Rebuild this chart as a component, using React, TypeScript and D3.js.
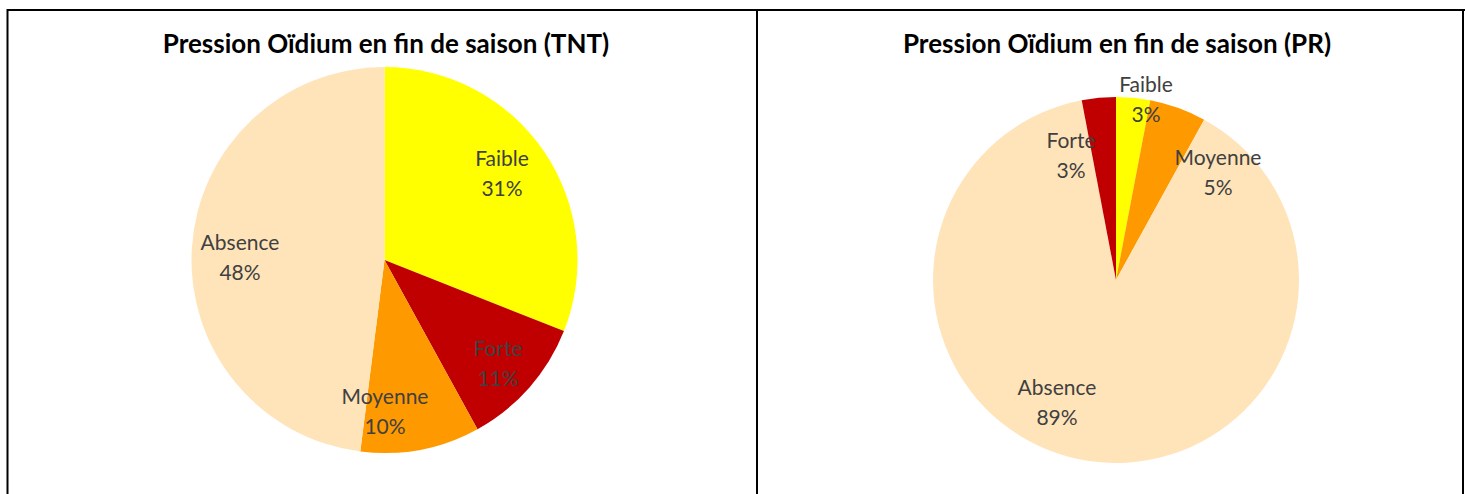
import React from "react";
import * as d3 from "d3";

const tntCategories = ["Faible", "Forte", "Moyenne", "Absence"];
const tntValues = [31, 11, 10, 48];
const prCategories = ["Faible", "Moyenne", "Absence", "Forte"];
const prValues = [3, 5, 89, 3];
const colorMap: Record<string, string> = {
  Faible: "#FFFF00",
  Forte: "#C00000",
  Moyenne: "#FF9900",
  Absence: "#FFE4BA",
};

const FONT = "Lato, 'Open Sans', sans-serif";

type PieProps = {
  title: string;
  titleX: number;
  titleY: number;
  cx: number;
  cy: number;
  r: number;
  categories: string[];
  values: number[];
  labelPos: Record<string, [number, number]>;
};

function Pie({ title, titleX, titleY, cx, cy, r, categories, values, labelPos }: PieProps) {
  const data = categories.map((c, i) => ({ c, v: values[i] }));
  const pie = d3.pie<{ c: string; v: number }>().value((d) => d.v).sort(null);
  const arc = d3.arc<d3.PieArcDatum<{ c: string; v: number }>>().innerRadius(0).outerRadius(r);
  const arcs = pie(data);
  return (
    <g>
      <text x={titleX} y={titleY} textAnchor="middle" fontFamily={FONT} fontWeight="bold" fontSize={26} fill="#000">
        {title}
      </text>
      <g transform={`translate(${cx},${cy})`}>
        {arcs.map((a) => (
          <path key={a.data.c} d={arc(a) || ""} fill={colorMap[a.data.c]} />
        ))}
      </g>
      {arcs.map((a) => {
        const [lx, ly] = labelPos[a.data.c];
        return (
          <text key={"l" + a.data.c} x={lx} y={ly} textAnchor="middle" fontFamily={FONT} fontSize={21} fill="#404040">
            <tspan x={lx} dy={0}>{a.data.c}</tspan>
            <tspan x={lx} dy={30}>{`${a.data.v}%`}</tspan>
          </text>
        );
      })}
    </g>
  );
}

export default function App() {
  return (
    <svg width={1465} height={494} style={{ position: "absolute", left: 0, top: 0, background: "#fff" }}>
      <rect x={0} y={0} width={1465} height={494} fill="#fff" />
      <Pie
        title="Pression Oïdium en fin de saison (TNT)"
        titleX={386}
        titleY={53}
        cx={384.5}
        cy={260}
        r={193}
        categories={tntCategories}
        values={tntValues}
        labelPos={{
          Faible: [502, 166],
          Forte: [498, 356],
          Moyenne: [385, 404],
          Absence: [240, 250],
        }}
      />
      <Pie
        title="Pression Oïdium en fin de saison (PR)"
        titleX={1117}
        titleY={53}
        cx={1116}
        cy={280}
        r={183}
        categories={prCategories}
        values={prValues}
        labelPos={{
          Faible: [1146, 92],
          Forte: [1071, 148],
          Moyenne: [1218, 165],
          Absence: [1057, 395],
        }}
      />
      <g stroke="#000" strokeWidth={2} fill="none">
        <line x1={7.5} y1={10} x2={1465} y2={10} />
        <line x1={7.5} y1={9} x2={7.5} y2={494} />
        <line x1={757} y1={10} x2={757} y2={494} />
        <line x1={1463} y1={10} x2={1463} y2={494} />
      </g>
    </svg>
  );
}
